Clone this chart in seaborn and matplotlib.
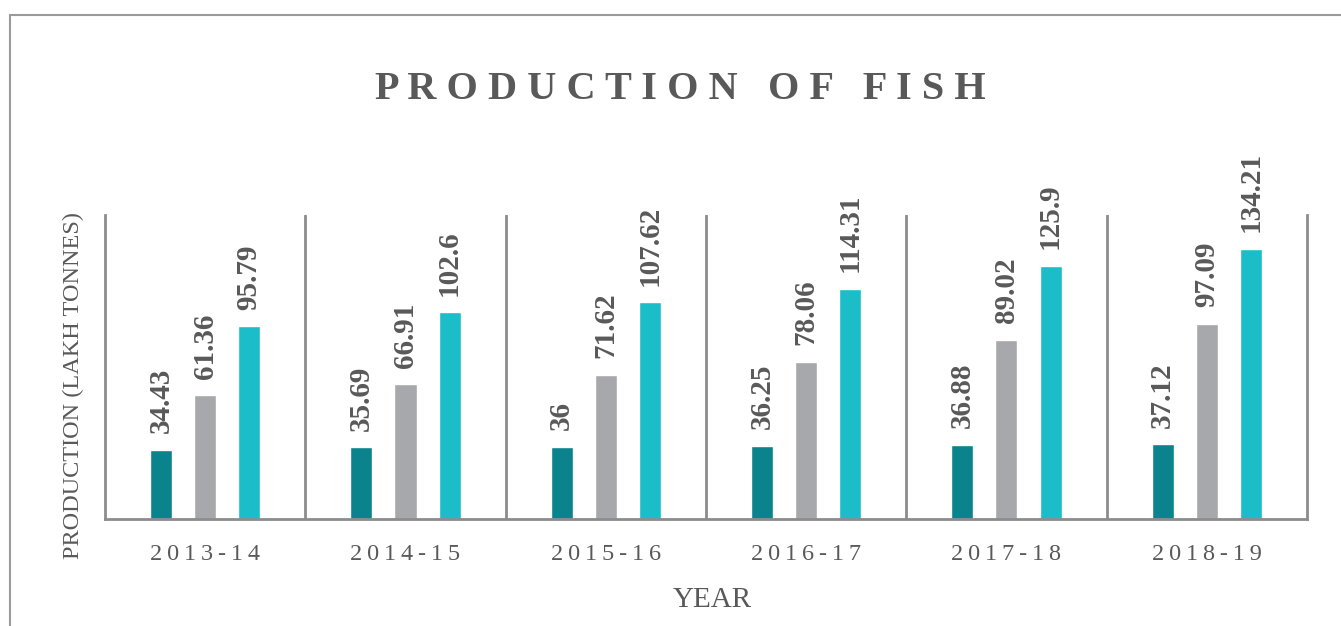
import matplotlib
matplotlib.use("Agg")
import matplotlib.pyplot as plt
from matplotlib.lines import Line2D
import seaborn as sns
import pandas as pd

# data
years = ["2013-14", "2014-15", "2015-16", "2016-17", "2017-18", "2018-19"]
marine = [34.43, 35.69, 36, 36.25, 36.88, 37.12]
inland = [61.36, 66.91, 71.62, 78.06, 89.02, 97.09]
total = [95.79, 102.6, 107.62, 114.31, 125.9, 134.21]
series = ["Marine", "Inland", "Total"]
colors = ["#0a838c", "#a7a8ab", "#1bbdc8"]

df = pd.DataFrame({
    "year": years * 3,
    "series": [s for s in series for _ in years],
    "value": marine + inland + total,
})

sns.set_theme(style="white")
plt.rcParams["font.family"] = ["Liberation Serif", "DejaVu Serif"]
text_color = "#595959"
line_color = "#8c8c8c"

fig = plt.figure(figsize=(13.41, 6.26), dpi=100)
ax = fig.add_axes([0.0783, 0.1709, 0.8963, 0.4856])

sns.barplot(data=df, x="year", y="value", hue="series", palette=colors,
            width=0.66, gap=0.5, saturation=1, legend=False, ax=ax)

for cont in ax.containers:
    labels = [f"{b.get_height():g}" for b in cont]
    ax.bar_label(cont, labels=labels, rotation=90, padding=12, fontsize=21,
                 fontweight="bold", color=text_color)

ax.set_xlim(-0.5, len(years) - 0.5)
ax.set_ylim(0, 151)
ax.set_yticks([])
for i in range(len(years) - 1):
    ax.axvline(i + 0.5, color=line_color, lw=2)

for side in ["left", "bottom", "right"]:
    ax.spines[side].set_visible(True)
    ax.spines[side].set_color(line_color)
    ax.spines[side].set_linewidth(2)
ax.spines["top"].set_visible(False)

ax.set_xticks(range(len(years)))
ax.set_xticklabels(["\u2009".join(y) for y in years], fontsize=17.5, color=text_color)
ax.tick_params(axis="x", length=0, pad=18)
ax.set_xlabel("YEAR", fontsize=21, color=text_color)
ax.xaxis.set_label_coords(0.505, -0.225)
ax.set_ylabel("PRODUCTION (LAKH TONNES)", fontsize=17.5, color=text_color)
ax.yaxis.set_label_coords(-0.0175, 0.44)

title = "   ".join(" ".join(w) for w in "PRODUCTION OF FISH".split())
fig.text(0.507, 0.857, title, ha="center", va="center", fontsize=29,
         fontweight="bold", color=text_color)

# outer frame (top and left edges)
fig.add_artist(Line2D([0.0075, 1.0], [0.976, 0.976], color="#9a9a9a", lw=1.5))
fig.add_artist(Line2D([0.0075, 0.0075], [0.0, 0.976], color="#9a9a9a", lw=1.5))

fig.savefig("out.png", dpi=100)
